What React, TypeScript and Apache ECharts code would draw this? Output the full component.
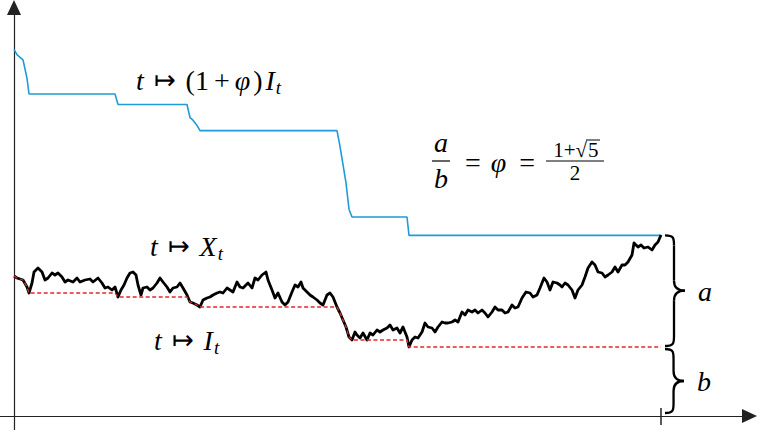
import React, { useEffect, useRef } from "react";
import * as echarts from "echarts";

// golden ratio
const PHI = (1 + Math.sqrt(5)) / 2;

const times = [
  0, 3, 6, 9, 13, 15, 18, 20, 24, 28, 31, 34, 38, 41, 44, 48, 51, 54, 59, 63,
  66, 71, 76, 79, 84, 88, 91, 94, 98, 101, 104, 107, 110, 113, 116, 119, 122, 124, 127, 129,
  133, 136, 139, 143, 146, 149, 153, 156, 159, 163, 166, 169, 173, 176, 179, 183, 186, 189, 193, 196,
  199, 203, 206, 209, 213, 216, 219, 223, 226, 229, 234, 238, 241, 244, 248, 252, 254, 258, 261, 264,
  268, 271, 274, 278, 281, 284, 287, 289, 293, 296, 299, 303, 306, 309, 313, 316, 319, 323, 326, 329,
  332, 335, 338, 341, 343, 346, 349, 353, 356, 359, 363, 366, 369, 373, 376, 379, 383, 386, 389, 393,
  395, 398, 401, 404, 408, 411, 414, 418, 421, 424, 428, 431, 434, 438, 441, 444, 448, 451, 454, 458,
  461, 464, 468, 471, 474, 478, 481, 484, 488, 491, 494, 498, 501, 504, 508, 512, 516, 519, 523, 526,
  530, 533, 536, 539, 543, 546, 548, 551, 554, 558, 561, 564, 568, 571, 574, 578, 581, 584, 588, 591,
  594, 598, 601, 604, 608, 611, 614, 618, 620, 624, 627, 630, 634, 638, 641, 644, 647,
];

// the path X_t
const xValues = [
  140, 138, 137, 136, 129, 123, 133, 144, 148, 144, 136, 138, 143, 141, 143, 139, 134, 136, 134, 138,
  134, 136, 137, 134, 138, 133, 128, 129, 126, 129, 119, 126, 131, 138, 143, 144, 141, 131, 121, 128,
  129, 126, 128, 133, 138, 134, 129, 124, 128, 129, 133, 128, 121, 114, 113, 111, 109, 116, 118, 119,
  121, 123, 124, 123, 128, 126, 124, 134, 129, 128, 133, 128, 138, 136, 141, 144, 136, 126, 118, 123,
  114, 111, 114, 124, 131, 129, 134, 128, 124, 121, 119, 116, 113, 111, 121, 123, 119, 109, 103, 96,
  89, 79, 76, 84, 81, 78, 83, 76, 83, 81, 86, 84, 86, 88, 91, 86, 88, 83, 89, 79,
  69, 76, 79, 78, 84, 93, 89, 88, 84, 89, 94, 93, 93, 94, 96, 94, 104, 101, 106, 104,
  106, 103, 106, 103, 99, 104, 109, 106, 106, 103, 104, 111, 108, 109, 118, 124, 123, 119, 121, 128,
  138, 134, 126, 134, 133, 131, 129, 133, 131, 126, 118, 126, 131, 139, 148, 154, 151, 144, 143, 139,
  141, 144, 149, 144, 151, 151, 154, 161, 173, 169, 171, 168, 169, 166, 171, 174, 181,
];

// running minimum I_t of the path
const iValues: number[] = [];
xValues.forEach((v, k) => iValues.push(k === 0 ? v : Math.min(iValues[k - 1], v)));
// (1 + phi) I_t
const scaledI = iValues.map((v) => (1 + PHI) * v);

const pathData = times.map((t, k) => [t, xValues[k]]);
const minData = times.map((t, k) => [t, iValues[k]]);
const scaledData = times.map((t, k) => [t, scaledI[k]]);

const SERIF = '"Liberation Serif", "DejaVu Serif", serif';
const ARROWF = '"DejaVu Sans", "DejaVu Serif", sans-serif';

const rich: any = {
  i: { fontFamily: SERIF, fontStyle: "italic", fontSize: 28, lineHeight: 34, color: "#000" },
  n: { fontFamily: SERIF, fontSize: 28, lineHeight: 34, color: "#000" },
  c: { fontFamily: SERIF, fontSize: 28, lineHeight: 34, color: "#000", padding: [0, 3, 0, 0] },
  m: { fontFamily: ARROWF, fontSize: 26, lineHeight: 34, color: "#000", padding: [0, 10, 0, 10] },
  p: { fontFamily: SERIF, fontSize: 28, lineHeight: 34, color: "#000", padding: [0, 5, 0, 5] },
  f: { fontFamily: SERIF, fontStyle: "italic", fontSize: 28, lineHeight: 34, color: "#000", padding: [0, 3, 0, 0] },
  e: { fontFamily: SERIF, fontSize: 28, lineHeight: 34, color: "#000", padding: [0, 10, 0, 10] },
  s: { fontFamily: SERIF, fontStyle: "italic", fontSize: 19, lineHeight: 34, color: "#000", padding: [14, 0, 0, 1] },
};

function brace(x0: number, y0: number, y1: number, w: number) {
  const xc = x0 + w * 0.45;
  const ym = (y0 + y1) / 2;
  const q = Math.min(10, (y1 - y0) / 5);
  const tip = x0 + w;
  const st = { stroke: "#000", lineWidth: 2.3, fill: "none" };
  return [
    { type: "bezierCurve", shape: { x1: x0, y1: y0, cpx1: xc, cpy1: y0, cpx2: xc, cpy2: y0 + q * 0.3, x2: xc, y2: y0 + q }, style: st },
    { type: "line", shape: { x1: xc, y1: y0 + q, x2: xc, y2: ym - q }, style: st },
    { type: "bezierCurve", shape: { x1: xc, y1: ym - q, cpx1: xc, cpy1: ym - q * 0.2, cpx2: tip - 6, cpy2: ym, x2: tip, y2: ym }, style: st },
    { type: "bezierCurve", shape: { x1: tip, y1: ym, cpx1: tip - 6, cpy1: ym, cpx2: xc, cpy2: ym + q * 0.2, x2: xc, y2: ym + q }, style: st },
    { type: "line", shape: { x1: xc, y1: ym + q, x2: xc, y2: y1 - q }, style: st },
    { type: "bezierCurve", shape: { x1: xc, y1: y1 - q, cpx1: xc, cpy1: y1 - q * 0.3, cpx2: xc, cpy2: y1, x2: x0, y2: y1 }, style: st },
  ];
}

export default function App() {
  const ref = useRef<HTMLDivElement>(null);
  useEffect(() => {
    if (!ref.current) return;
    const chart = echarts.init(ref.current, null, { renderer: "svg" });
    const axisLine = (color: string) => ({
      show: true,
      onZero: true,
      symbol: ["none", "triangle"],
      symbolSize: [14, 15],
      lineStyle: { color, width: 1.2 },
    });
    chart.setOption({
      animation: false,
      backgroundColor: "#fff",
      grid: { left: 0, right: 7.5, top: 7.5, bottom: 0, containLabel: false },
      xAxis: {
        type: "value",
        min: -14,
        max: 735.5,
        axisLine: axisLine("#222"),
        axisTick: { show: false },
        axisLabel: { show: false },
        splitLine: { show: false },
      },
      yAxis: {
        type: "value",
        min: -14,
        max: 408.5,
        axisLine: axisLine("#222"),
        axisTick: { show: false },
        axisLabel: { show: false },
        splitLine: { show: false },
      },
      series: [
        {
          type: "line",
          data: scaledData,
          showSymbol: false,
          lineStyle: { color: "#1f9bd7", width: 1.6 },
          z: 2,
        },
        {
          type: "line",
          data: pathData,
          showSymbol: false,
          lineStyle: { color: "#000", width: 2.8, join: "round" },
          z: 3,
        },
        {
          type: "line",
          data: minData,
          showSymbol: false,
          lineStyle: { color: "#e0282e", width: 1.3, type: [4, 2.5] },
          z: 4,
        },
      ],
    });

    const p = (t: number, v: number) => chart.convertToPixel({ gridIndex: 0 }, [t, v]) as number[];
    const T = times[times.length - 1];
    const iEnd = iValues[iValues.length - 1];
    const [xe, yBlue] = p(T, scaledI[scaledI.length - 1]);
    const [, yI] = p(T, iEnd);
    const [, y0] = p(T, 0);
    const bx = xe + 4;

    const txt = (x: number, y: number, text: string, align = "left") => ({
      type: "text",
      x,
      y,
      style: { text, rich, align, verticalAlign: "middle" },
    });
    const small = (x: number, y: number, text: string, align: string) => ({
      type: "text",
      x,
      y,
      style: { text, align, verticalAlign: "middle", fontFamily: SERIF, fontSize: 21, fill: "#000" },
    });

    chart.setOption({
      graphic: [
        // tick at the final time
        { type: "line", shape: { x1: xe, y1: y0 - 8, x2: xe, y2: y0 + 9 }, style: { stroke: "#000", lineWidth: 1.3 } },
        ...brace(bx, yBlue, yI - 1, 20),
        ...brace(bx, yI + 2, y0 - 3, 19),
        txt(bx + 33, (yBlue + yI) / 2, "{i|a}"),
        txt(bx + 32, (yI + y0) / 2, "{i|b}"),
        txt(136, 80, "{i|t}{m|↦}{n|(1}{p|+}{f|φ}{c|)}{i|I}{s|t}"),
        txt(150, 246, "{i|t}{m|↦}{i|X}{s|t}"),
        txt(154, 340, "{i|t}{m|↦}{i|I}{s|t}"),
        // a / b = phi = (1+sqrt5)/2
        txt(441, 142, "{i|a}", "center"),
        { type: "line", shape: { x1: 432, y1: 161, x2: 450, y2: 161 }, style: { stroke: "#000", lineWidth: 1.2 } },
        txt(441, 178, "{i|b}", "center"),
        txt(455, 162, "{e|=}{f|φ}{e|=}"),
        small(587, 150, "1+√", "right"),
        small(588, 150, "5", "left"),
        { type: "line", shape: { x1: 586, y1: 140, x2: 600, y2: 140 }, style: { stroke: "#000", lineWidth: 1 } },
        { type: "line", shape: { x1: 546, y1: 161, x2: 604, y2: 161 }, style: { stroke: "#000", lineWidth: 1.1 } },
        small(575, 173, "2", "center"),
      ],
    });

    return () => chart.dispose();
  }, []);
  return (
    <div
      ref={ref}
      style={{ position: "fixed", left: 0, top: 0, width: 757, height: 430, background: "#fff" }}
    />
  );
}
